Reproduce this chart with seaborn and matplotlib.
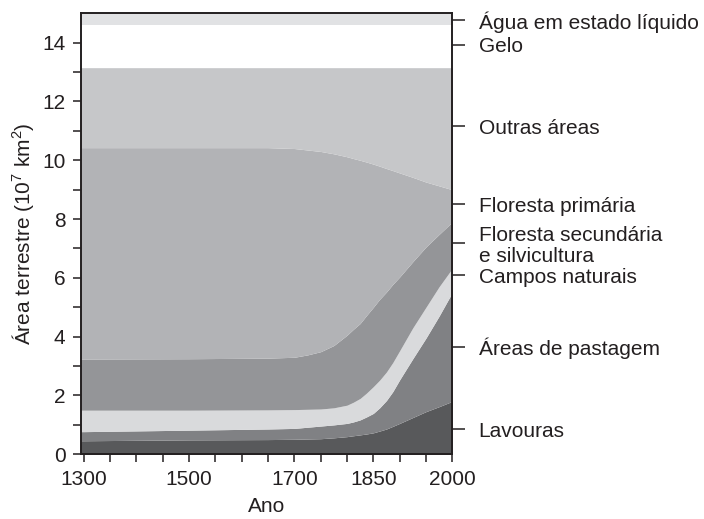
import numpy as np
import matplotlib
matplotlib.use("Agg")
import matplotlib.pyplot as plt
import seaborn as sns

# ---- data (cumulative upper boundary of each layer, 10^7 km^2) ----
years = [1300, 1500, 1650, 1700, 1725, 1750, 1775, 1800, 1812, 1825, 1837, 1850,
         1862, 1875, 1887, 1900, 1925, 1950, 1975, 2000]

lavouras_top   = [0.46, 0.49, 0.50, 0.51, 0.52, 0.53, 0.56, 0.60, 0.63, 0.66, 0.69, 0.73,
                  0.79, 0.86, 0.95, 1.05, 1.25, 1.45, 1.62, 1.80]
pastagem_top   = [0.77, 0.82, 0.86, 0.88, 0.92, 0.96, 1.00, 1.05, 1.10, 1.17, 1.27, 1.39,
                  1.58, 1.83, 2.13, 2.53, 3.25, 3.95, 4.70, 5.50]
campos_top     = [1.50, 1.50, 1.51, 1.52, 1.53, 1.54, 1.58, 1.67, 1.77, 1.90, 2.08, 2.30,
                  2.52, 2.80, 3.12, 3.52, 4.30, 5.00, 5.70, 6.32]
secundaria_top = [3.24, 3.25, 3.27, 3.30, 3.38, 3.49, 3.70, 4.05, 4.25, 4.45, 4.72, 5.00,
                  5.27, 5.52, 5.78, 6.03, 6.55, 7.05, 7.48, 7.90]
primaria_top   = [10.43, 10.43, 10.43, 10.40, 10.35, 10.30, 10.22, 10.12, 10.06, 10.00, 9.94, 9.87,
                  9.80, 9.72, 9.65, 9.57, 9.42, 9.26, 9.13, 9.00]
outras_top     = [13.15] * len(years)
gelo_top       = [14.60] * len(years)
agua_top       = [15.00] * len(years)

layer_tops = [lavouras_top, pastagem_top, campos_top, secundaria_top,
              primaria_top, outras_top, gelo_top, agua_top]
layer_colors = ["#58595b", "#808184", "#d9dadc", "#949598",
                "#b2b3b6", "#c6c7c9", "#ffffff", "#e1e2e4"]

label_names = ["Água em estado líquido", "Gelo", "Outras áreas", "Floresta primária",
               "Floresta secundária\ne silvicultura", "Campos naturais",
               "Áreas de pastagem", "Lavouras"]
label_pos = [14.78, 13.93, 11.15, 8.50, 7.17, 6.09, 3.66, 0.85]

xtick_major = [1300, 1500, 1700, 1850, 2000]
xtick_labels = ["1300", "1500", "1700", "1850", "2000"]

# ---- style ----
sns.set_theme(style="ticks")
plt.rcParams["font.family"] = ["Liberation Sans", "DejaVu Sans"]
plt.rcParams["mathtext.fontset"] = "custom"
plt.rcParams["mathtext.rm"] = "Liberation Sans"
plt.rcParams["mathtext.it"] = "Liberation Sans"

FS = 15
INK = "#231f20"
fig = plt.figure(figsize=(7.04, 5.19), dpi=100)
ax = fig.add_axes([0.1146, 0.1247, 0.5278, 0.8497])

XMIN, XMAX = 1294, 2000
xs = np.r_[XMIN, years]
bottom = np.zeros(len(xs))
for top, col in zip(layer_tops, layer_colors):
    t = np.r_[top[0], top]
    ax.fill_between(xs, bottom, t, color=col, linewidth=0)
    bottom = t

ax.set_xlim(XMIN, XMAX)
ax.set_ylim(0, 15)

ax.set_xticks(xtick_major)
ax.set_xticklabels(xtick_labels)
ax.set_xticks(np.arange(1300, 2001, 50), minor=True)
ax.set_yticks(np.arange(0, 15, 2))
ax.set_yticks(np.arange(1, 15, 2), minor=True)

for which in ("major", "minor"):
    ax.tick_params(axis="both", which=which, direction="out", length=6,
                   width=1.1, color=INK, labelsize=FS, pad=5,
                   labelcolor=INK)

for sp in ax.spines.values():
    sp.set_visible(True)
    sp.set_linewidth(1.4)
    sp.set_color(INK)

ax.set_xlabel("Ano", fontsize=FS, color=INK, labelpad=6)
ax.set_ylabel("Área terrestre (10$^7$ km$^2$)", fontsize=FS, color=INK, labelpad=4)

ax2 = ax.twinx()
ax2.set_ylim(0, 15)
ax2.set_yticks(label_pos)
ax2.set_yticklabels(label_names, fontsize=FS, color=INK, linespacing=1.07)
ax2.tick_params(axis="y", direction="out", length=9, width=1.1,
                color=INK, pad=10)
for sp in ax2.spines.values():
    sp.set_visible(False)

sns.despine(ax=ax, top=False, right=False, left=False, bottom=False)
fig.savefig("out.png", dpi=100)
